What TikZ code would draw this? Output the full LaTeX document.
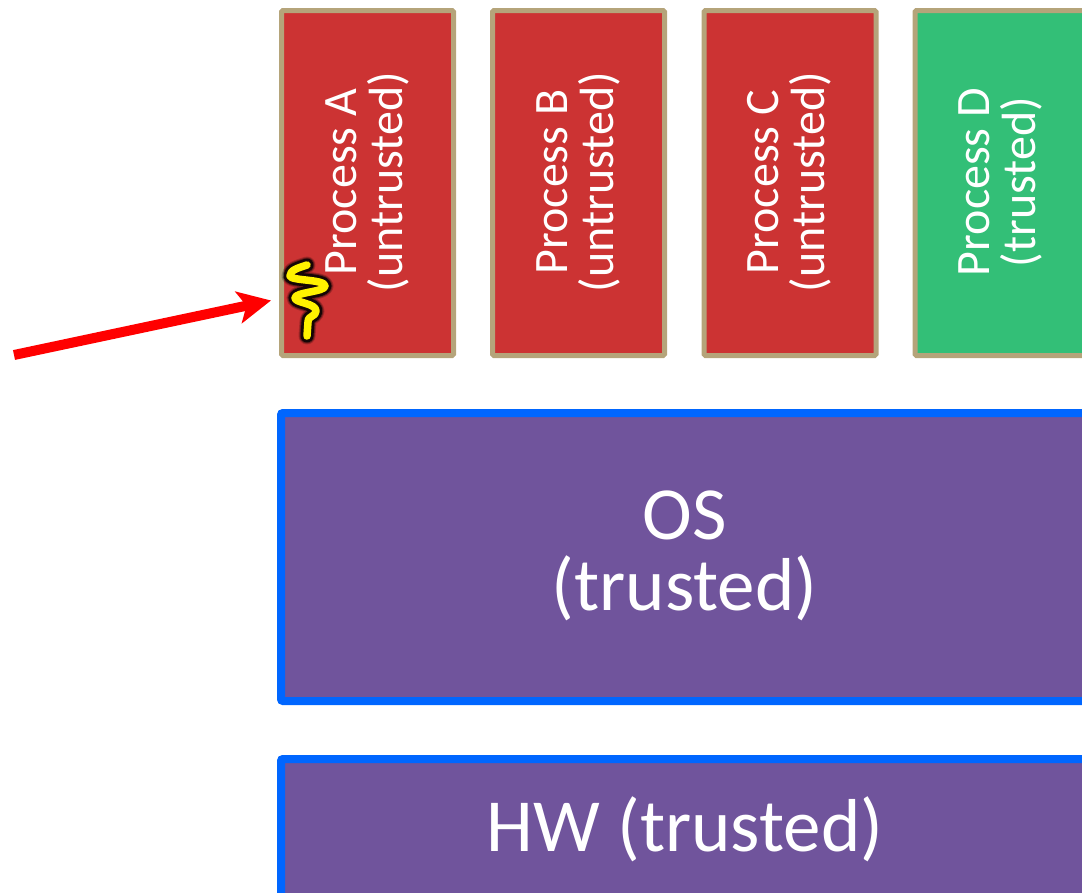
\documentclass[tikz,border=0pt]{standalone}
\usepackage{fontspec}
\setmainfont{Carlito}
\usetikzlibrary{arrows.meta}
\definecolor{procred}{HTML}{CC3333}
\definecolor{procgreen}{HTML}{33BF77}
\definecolor{procedge}{HTML}{B5A47A}
\definecolor{ospurple}{HTML}{70549C}
\definecolor{osblue}{HTML}{0066FF}
\tikzset{
  procbox/.style={draw=procedge,line width=5pt,rounded corners=1.5pt,minimum width=172pt,minimum height=345pt,anchor=north west,inner sep=0pt},
  proctext/.style={text=white,align=center,rotate=90,font=\fontsize{48}{46}\selectfont},
  layerbox/.style={draw=osblue,fill=ospurple,line width=8pt,rounded corners=2pt,anchor=north west,inner sep=0pt},
  layertext/.style={text=white,align=center,font=\fontsize{75}{71}\selectfont},
  attack/.style={draw=red,line width=10pt,-{Stealth[length=33pt,width=32pt,inset=8pt]}}
}
\begin{document}
\begin{tikzpicture}[x=1pt,y=-1pt]
\useasboundingbox (0,0) rectangle (1082,892);
\begin{scope}
\clip (0,0) rectangle (1082,892);
\node[procbox,fill=procred] (a) at (279,8) {};
\node[procbox,fill=procred] (b) at (490,8) {};
\node[procbox,fill=procred] (c) at (701.5,8) {};
\node[procbox,fill=procgreen] (d) at (912.5,8) {};
\node[proctext] (ta) at (367,182) {Process A\\(untrusted)};
\node[proctext] (tb) at (578,182) {Process B\\(untrusted)};
\node[proctext] (tc) at (789,182) {Process C\\(untrusted)};
\node[proctext] (td) at (1000,182) {Process D\\(trusted)};
\node[layerbox,minimum width=900pt,minimum height=288pt] (os) at (277,409) {};
\node[layerbox,minimum width=900pt,minimum height=160pt] (hw) at (277,755) {};
\node[layertext] (tos) at (684.5,556) {OS\\(trusted)};
\node[layertext] (thw) at (685,829) {HW (trusted)};
\end{scope}
\coordinate (s) at (14,355);
\coordinate (e) at (271,300.5);
\draw[attack] (s) -- (e);
\foreach \w/\c/\o in {17/black/0.2,15/black/0.35,13/black/0.8,7.5/yellow/1}{
\draw[line width=\w pt,color=\c,opacity=\o,line cap=round,line join=round]
 (307,265) .. controls (298,268) and (290,270) .. (290,276)
 .. controls (291,281) and (325,279) .. (325,286)
 .. controls (325,292) and (295,292) .. (295,298)
 .. controls (295,303) and (316,303) .. (316,311)
 .. controls (316,317) and (308,315) .. (308,322)
 -- (307,336);
}
\end{tikzpicture}
\end{document}
